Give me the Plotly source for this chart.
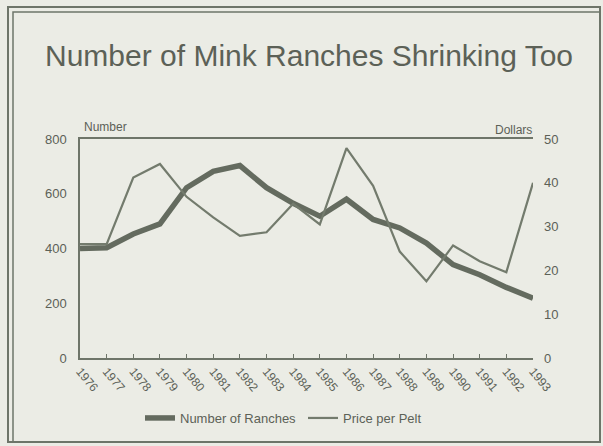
import plotly.graph_objects as go

# Data
years = list(range(1976, 1994))
year_labels = [str(y) for y in years]
ranches = [400, 403, 453, 490, 622, 682, 703, 622, 565, 518, 580, 506, 475, 420, 341, 304, 258, 218]
pelt_price = [26.0, 26.0, 41.2, 44.3, 36.8, 32.1, 27.9, 28.7, 35.2, 30.5, 47.9, 39.3, 24.3, 17.5, 25.7, 22.1, 19.6, 40.0]
left_ticks = [0, 200, 400, 600, 800]
right_ticks = [0, 10, 20, 30, 40, 50]

W, H = 603, 446
ML, MR, MT, MB = 80, 70, 139, 88
PW, PH = W - ML - MR, H - MT - MB

BG = "#ebece5"
LINE = "#6e7569"
TEXT = "#5c6157"
FONT = "Liberation Sans, Arial, sans-serif"


def px_x(px):
    return (px - ML) / PW


def px_y(py):
    return (H - MB - py) / PH


fig = go.Figure()
fig.add_trace(go.Scatter(
    x=years, y=ranches, name="Number of Ranches", mode="lines",
    line=dict(color="#646b5f", width=5.5), yaxis="y"))
fig.add_trace(go.Scatter(
    x=years, y=pelt_price, name="Price per Pelt", mode="lines",
    line=dict(color="#737b6d", width=2.2), yaxis="y2"))

# Outer double frame around the whole graphic
frame = []
for x0, y0, x1, y1, w in [(8, 7, 600, 442, 2), (13, 12, 600, 442, 1.5)]:
    frame.append(dict(type="rect", xref="paper", yref="paper",
                      x0=px_x(x0), x1=px_x(x1), y0=px_y(y1), y1=px_y(y0),
                      line=dict(color=LINE, width=w), layer="below"))

fig.update_layout(
    width=W, height=H,
    margin=dict(l=ML, r=MR, t=MT, b=MB),
    paper_bgcolor=BG, plot_bgcolor=BG,
    font=dict(family=FONT, color=TEXT, size=12),
    showlegend=True,
    legend=dict(orientation="h", x=px_x(140), xanchor="left", y=px_y(418), yanchor="middle",
                font=dict(size=13, color=TEXT), bgcolor="rgba(0,0,0,0)",
                itemwidth=30, entrywidth=118, tracegroupgap=0),
    xaxis=dict(range=[1976, 1993], tickvals=years, ticktext=year_labels,
               tickangle=50, ticks="inside", ticklen=4, tickcolor=LINE,
               showgrid=False, zeroline=False, showline=True, linecolor=LINE,
               linewidth=1.5, mirror=True, tickfont=dict(size=12, color=TEXT)),
    yaxis=dict(range=[0, 800], tickvals=left_ticks, showgrid=False, zeroline=False,
               showline=True, linecolor=LINE, linewidth=1.5, ticks="",
               ticklabelstandoff=9, tickfont=dict(size=13, color=TEXT)),
    yaxis2=dict(range=[0, 50], tickvals=right_ticks, overlaying="y", side="right",
                showgrid=False, zeroline=False, showline=False, ticks="",
                ticklabelstandoff=10, tickfont=dict(size=13, color=TEXT)),
    shapes=frame,
    annotations=[
        dict(text="Number of Mink Ranches Shrinking Too", xref="paper", yref="paper",
             x=px_x(309), y=px_y(56), xanchor="center", yanchor="middle",
             showarrow=False, font=dict(size=30, color=TEXT)),
        dict(text="Number", xref="paper", yref="paper", x=px_x(82), y=px_y(127),
             xanchor="left", yanchor="middle", showarrow=False,
             font=dict(size=12, color=TEXT)),
        dict(text="Dollars", xref="paper", yref="paper", x=px_x(534), y=px_y(130),
             xanchor="right", yanchor="middle", showarrow=False,
             font=dict(size=12, color=TEXT)),
    ],
)

fig.write_html("out.html")
